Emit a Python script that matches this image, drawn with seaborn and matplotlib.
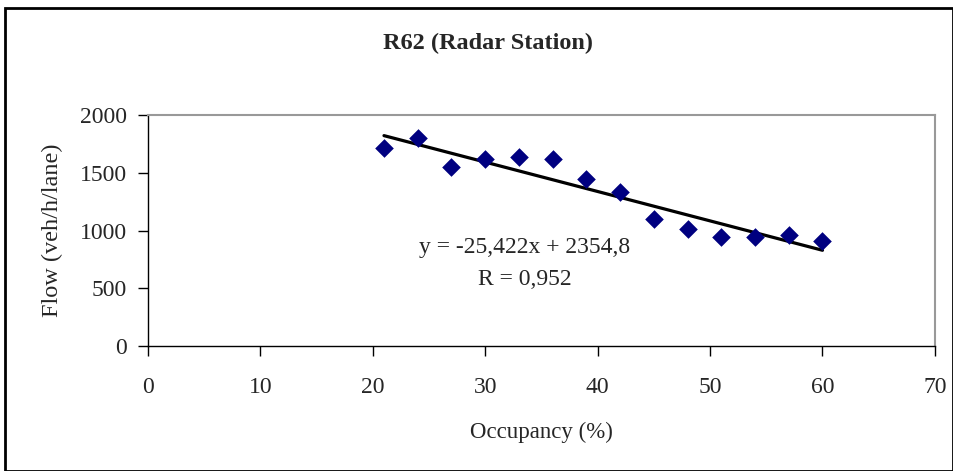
import numpy as np
import pandas as pd
import matplotlib
matplotlib.use("Agg")
import matplotlib.pyplot as plt
import seaborn as sns
from matplotlib.patches import Rectangle

occupancy = [21, 24, 27, 30, 33, 36, 39, 42, 45, 48, 51, 54, 57, 60]
flow = [1710, 1800, 1550, 1620, 1640, 1620, 1450, 1330, 1100, 1010, 940, 940, 960, 910]
slope = -25.422
intercept = 2354.8

df = pd.DataFrame({"occupancy": occupancy, "flow": flow})
trend = pd.DataFrame({"occupancy": [min(occupancy), max(occupancy)]})
trend["flow"] = slope * trend["occupancy"] + intercept

sns.set_style("white")
plt.rcParams['font.family'] = ['Liberation Serif', 'DejaVu Serif']

fig = plt.figure(figsize=(9.54, 4.71), dpi=100)
ax = fig.add_axes([0.155, 0.265, 0.825, 0.491])

sns.lineplot(data=trend, x="occupancy", y="flow", color="black", linewidth=2.3, ax=ax)
sns.scatterplot(data=df, x="occupancy", y="flow", marker="D", color="#000080",
                s=90, edgecolor="#000080", linewidth=0, ax=ax, zorder=3)

ax.set_xlim(0, 70)
ax.set_ylim(0, 2000)
ax.set_xticks(range(0, 71, 10))
ax.set_yticks(range(0, 2001, 500))
ax.tick_params(axis="both", labelsize=17, direction="out", length=7, width=1, color="black",
               bottom=True, left=True)
ax.tick_params(axis="x", pad=15)
ax.tick_params(axis="y", pad=8)
for s in ["left", "bottom"]:
    ax.spines[s].set_color("black")
    ax.spines[s].set_linewidth(1)
for s in ["top", "right"]:
    ax.spines[s].set_color("#999999")
    ax.spines[s].set_linewidth(1.5)

ax.set_xlabel("Occupancy (%)", fontsize=16.5, labelpad=17)
ax.set_ylabel("Flow (veh/h/lane)", fontsize=17.5, labelpad=12)
ax.text(33.5, 857, "y = -25,422x + 2354,8", fontsize=17, ha="center", va="center")
ax.text(33.5, 580, "R = 0,952", fontsize=17, ha="center", va="center")

fig.text(0.512, 0.908, "R62 (Radar Station)", fontsize=17.5, fontweight="bold",
         ha="center", va="center")
fig.patches.append(Rectangle((0.005, 0.0), 0.994, 0.982, transform=fig.transFigure,
                             fill=False, edgecolor="black", linewidth=2))

fig.savefig("out.png", dpi=100)
